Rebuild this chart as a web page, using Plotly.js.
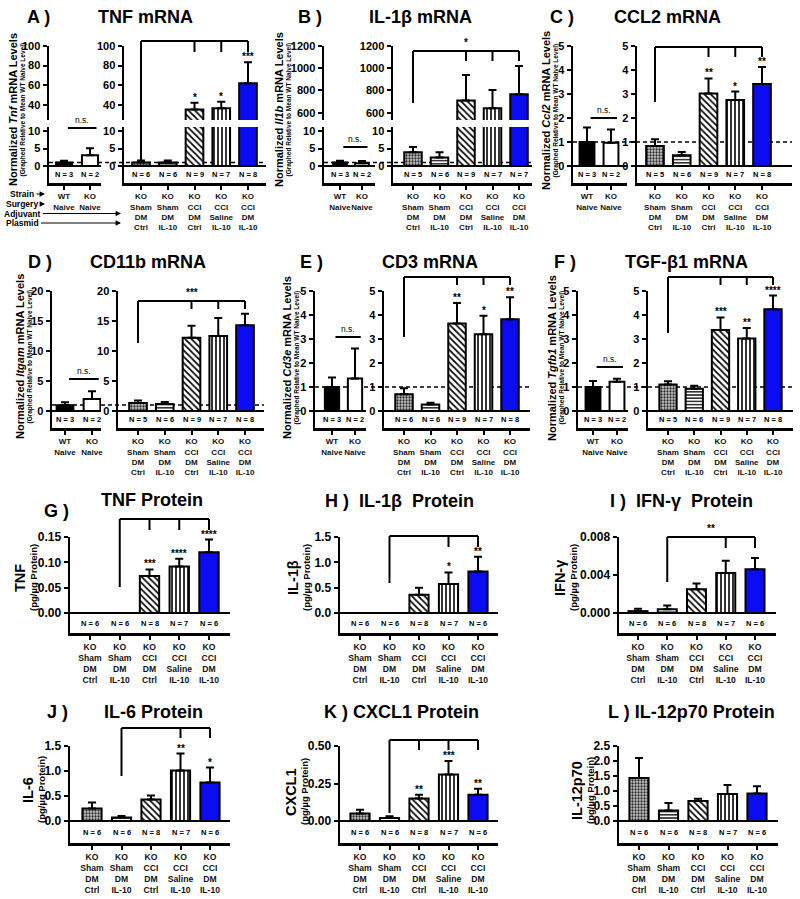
<!DOCTYPE html>
<html><head><meta charset="utf-8">
<script src="https://cdn.plot.ly/plotly-3.0.1.min.js"></script>
<style>body{margin:0;background:#fff}</style>
</head><body><div id="chart" style="width:800px;height:899px"></div>
<script>
// ================= DATA =================
const naiveLabels = ['WT<br>Naive','KO<br>Naive'];
const groupLabels = ['KO<br>Sham<br>DM<br>Ctrl','KO<br>Sham<br>DM<br>IL-10','KO<br>CCI<br>DM<br>Ctrl','KO<br>CCI<br>Saline<br>IL-10','KO<br>CCI<br>DM<br>IL-10'];

// A) TNF mRNA
const tnfNaive=[1.0,3.1], tnfNaiveErr=[0.5,2.0], tnfNaiveN=[3,2];
const tnfGrp=[1.0,1.0,35,36.5,62], tnfGrpErr=[0.6,0.6,7,6.5,21.5], tnfGrpN=[6,6,9,7,8];
const tnfStars=['','','*','*','***'];
// B) IL-1b mRNA
const il1bNaive=[1.0,0.8], il1bNaiveErr=[0.5,0.6], il1bNaiveN=[3,2];
const il1bGrp=[3.9,2.4,710,640,765], il1bGrpErr=[1.5,1.5,230,165,255], il1bGrpN=[5,6,9,7,7];
const il1bStars=['','','','',''];
// C) CCL2 mRNA
const ccl2Naive=[1.0,0.97], ccl2NaiveErr=[0.6,0.55], ccl2NaiveN=[3,2];
const ccl2Grp=[0.83,0.45,3.02,2.75,3.42], ccl2GrpErr=[0.28,0.13,0.63,0.35,0.7], ccl2GrpN=[5,6,9,7,8];
const ccl2Stars=['','','**','*','**'];
// D) CD11b mRNA
const cd11bNaive=[0.95,2.0], cd11bNaiveErr=[0.5,1.3], cd11bNaiveN=[3,2];
const cd11bGrp=[1.35,1.15,12.2,12.5,14.3], cd11bGrpErr=[0.4,0.35,2.0,3.0,1.9], cd11bGrpN=[5,6,9,7,8];
const cd11bStars=['','','','',''];
// E) CD3 mRNA
const cd3Naive=[1.0,1.35], cd3NaiveErr=[0.4,1.25], cd3NaiveN=[3,2];
const cd3Grp=[0.7,0.27,3.65,3.2,3.82], cd3GrpErr=[0.25,0.07,0.85,0.77,0.92], cd3GrpN=[6,6,9,7,8];
const cd3Stars=['','','**','*','**'];
// F) TGF-b1 mRNA
const tgfNaive=[1.0,1.22], tgfNaiveErr=[0.25,0.12], tgfNaiveN=[3,2];
const tgfGrp=[1.1,0.93,3.38,3.02,4.24], tgfGrpErr=[0.14,0.12,0.52,0.44,0.57], tgfGrpN=[5,6,9,7,8];
const tgfStars=['','','***','**','****'];
// G) TNF protein
const tnfP=[0,0,0.073,0.092,0.12], tnfPErr=[0,0,0.013,0.015,0.025], tnfPN=[6,6,8,7,6], tnfPStars=['','','***','****','****'];
// H) IL-1b protein
const il1bP=[0,0,0.36,0.57,0.82], il1bPErr=[0,0,0.14,0.23,0.29], il1bPN=[6,6,8,7,6], il1bPStars=['','','','*','**'];
// I) IFN-g protein
const ifngP=[0.0002,0.0004,0.0025,0.0042,0.0046], ifngPErr=[0.00025,0.0004,0.0006,0.0013,0.0012], ifngPN=[6,6,8,7,6], ifngPStars=['','','','',''];
// J) IL-6 protein
const il6P=[0.25,0.07,0.43,1.01,0.77], il6PErr=[0.12,0.03,0.08,0.34,0.3], il6PN=[6,6,8,7,6], il6PStars=['','','','**','*'];
// K) CXCL1 protein
const cxcl1P=[0.05,0.02,0.15,0.31,0.175], cxcl1PErr=[0.025,0.012,0.025,0.09,0.04], cxcl1PN=[6,6,8,7,6], cxcl1PStars=['','','**','***','**'];
// L) IL-12p70 protein
const il12P=[1.43,0.35,0.67,0.9,0.92], il12PErr=[0.67,0.25,0.07,0.3,0.24], il12PN=[6,6,8,7,6], il12PStars=['','','','',''];

// ================= HELPERS =================
const W=800,H=899;
const fx=p=>p/W, fy=p=>1-p/H;
const FONT='Liberation Sans, Arial, Helvetica, sans-serif';
const layout={width:W,height:H,margin:{l:0,r:0,t:0,b:0,pad:0},paper_bgcolor:'white',plot_bgcolor:'rgba(0,0,0,0)',
  showlegend:false,hovermode:false,font:{family:FONT,color:'black'},shapes:[],annotations:[]};
const data=[];
let nx=0,ny=0;
const key=id=>id[0]+'axis'+id.slice(1);

const BLUE='#0c0cf2';
const naiveStyles=[{shape:'.',bg:'black',fg:'black',size:4,sol:0.5},{shape:'',bg:'white',fg:'black'}];
const grpStyles=[{shape:'.',bg:'#c8c8c8',fg:'#2a2a2a',size:3,sol:0.45},{shape:'-',bg:'white',fg:'black',size:3.2,sol:0.4},
  {shape:'\\',bg:'white',fg:'black',size:4.5,sol:0.38},{shape:'|',bg:'white',fg:'black',size:4,sol:0.4},{shape:'.',bg:BLUE,fg:BLUE,size:4,sol:0.5}];

function makeX(g,n,labels,fs){
  nx++; const id=nx===1?'x':'x'+nx;
  const s=(g.b1-g.b0)/(n-1);
  layout[key(id)]={domain:[fx(g.ax),fx(g.end)],range:[-(g.b0-g.ax)/s,(n-1)+(g.end-g.b1)/s],
    tickvals:[...Array(n).keys()],ticktext:labels,showline:true,linewidth:2.5,linecolor:'black',
    ticks:'outside',ticklen:4,tickwidth:2,tickcolor:'black',showgrid:false,zeroline:false,
    tickfont:{family:FONT,size:fs,weight:'bold',color:'#111'},tickangle:0,fixedrange:true};
  return id;
}
function makeY(top,bot,range,tickvals,ticktext,xid,zl,fs){
  ny++; const id=ny===1?'y':'y'+ny;
  layout[key(id)]={domain:[fy(bot),fy(top)],range,tickvals,ticktext,anchor:xid,showline:true,linewidth:2.5,
    linecolor:'black',ticks:'outside',ticklen:4,tickwidth:2,tickcolor:'black',showgrid:false,
    zeroline:zl,zerolinewidth:2.5,zerolinecolor:'black',tickfont:{family:FONT,size:fs,weight:'bold',color:'black'},fixedrange:true};
  return id;
}
function link(xid,yid){layout[key(xid)].anchor=yid;}
function bars(xid,yid,vals,errs,styles,width){
  data.push({type:'bar',x:vals.map((_,i)=>i),y:vals,xaxis:xid,yaxis:yid,width:width,
    marker:{color:'white',line:{color:'black',width:2},
      pattern:{shape:styles.map(s=>s.shape),fgcolor:styles.map(s=>s.fg),bgcolor:styles.map(s=>s.bg),
        size:styles.map(s=>s.size||5),solidity:styles.map(s=>s.sol||0.3),fillmode:'replace'}},
    error_y:{type:'data',symmetric:false,array:errs,arrayminus:vals.map(()=>0),color:'black',thickness:2,width:4},
    hoverinfo:'skip'});
}
function ann(o){layout.annotations.push(Object.assign({showarrow:false,xref:'paper',yref:'paper',xanchor:'center',yanchor:'middle'},o));}
function fnt(size,weight){return {family:FONT,size:size,color:'black',weight:weight||'bold'};}
function txt(text,xPx,yPx,size,extra){ann(Object.assign({text:text,x:fx(xPx),y:fy(yPx),font:fnt(size)},extra||{}));}
function line(x0,y0,x1,y1,xref,yref,extra){layout.shapes.push(Object.assign({type:'line',x0,y0,x1,y1,xref,yref,line:{color:'black',width:2}},extra||{}));}
function bracket(xid,i0,i1,yPx,descPx,ticks,tickEndPx,center){
  line(i0,fy(yPx),i1,fy(yPx),xid,'paper');
  line(i0,fy(yPx),i0,fy(descPx),xid,'paper');
  ticks.forEach(t=>line(t,fy(yPx),t,fy(tickEndPx),xid,'paper'));
  if(center) ann({text:center,x:(i0+i1)/2,xref:xid,y:fy(yPx-1),yanchor:'bottom',font:fnt(10)});
}
function nLabels(xid,ns,yPx){ns.forEach((n,i)=>ann({text:'N = '+n,x:i,xref:xid,y:fy(yPx),font:fnt(7.5)}));}
function starLabels(xid,yid,vals,errs,st){st.forEach((s,i)=>{if(s)ann({text:s,x:i,xref:xid,y:vals[i]+errs[i],yref:yid,yanchor:'bottom',yshift:-2,font:fnt(10)});});}
function ns(xid,yPx){line(0.15,fy(yPx),1.25,fy(yPx),xid,'paper');ann({text:'n.s.',x:0.7,xref:xid,y:fy(yPx-1),yanchor:'bottom',font:fnt(8.5,'normal')});}
function rng(row,maxv){const s=(row.zero-row.top)/maxv;return [-(row.bot-row.zero)/s,maxv];}
function vtitle(text,xPx,yPx,size){ann({text:text,x:fx(xPx),y:fy(yPx),textangle:-90,font:fnt(size)});}

const R1={top:46,zero:166,bot:183,n:174.5,hiBot:120,loTop:127};
const R2={top:291,zero:411,bot:428,n:419.5};
const R3={top:537,zero:613,bot:633,n:623};
const R4={top:746,zero:821,bot:843,n:832};

function mrna(c){
  const row=c.row, fsT=8;
  const xL=makeX(c.gL,2,naiveLabels,fsT), xR=makeX(c.gR,5,groupLabels,fsT);
  let yL,yR,yLs,yRs;
  if(c.hi){
    const lo=[-(row.bot-row.zero)/3.5,(row.zero-row.loTop)/3.5];
    yL=makeY(row.loTop,row.bot,lo,[0,5,10],['0','5','10'],xL,true,11);
    yLs=makeY(row.top,row.hiBot,c.hi.range,c.hi.ticks,c.hi.ticks.map(String),xL,false,11);
    yR=makeY(row.loTop,row.bot,lo,[0,5,10],['0','5','10'],xR,true,11);
    yRs=makeY(row.top,row.hiBot,c.hi.range,c.hi.ticks,c.hi.ticks.map(String),xR,false,11);
  } else {
    yL=makeY(row.top,row.bot,rng(row,c.max),c.ticks,c.ticks.map(String),xL,true,11); yLs=yL;
    yR=makeY(row.top,row.bot,rng(row,c.max),c.ticks,c.ticks.map(String),xR,true,11); yRs=yR;
  }
  link(xL,yL); link(xR,yR);
  const layers=c.hi?[[yL,yR],[yLs,yRs]]:[[yL,yR]];
  layers.forEach(([a,b])=>{bars(xL,a,c.naive,c.naiveErr,naiveStyles,0.62);bars(xR,b,c.grp,c.grpErr,grpStyles,0.66);});
  line(fx(c.gL.ax),1,fx(c.gR.end),1,'paper',yL,{line:{color:'black',width:1.5,dash:'4px,3px'},layer:'below'});
  nLabels(xL,c.naiveN,row.n); nLabels(xR,c.grpN,row.n);
  starLabels(xR,yRs,c.grp,c.grpErr,c.stars);
  bracket(xR,0,4,c.br.y,c.br.desc,[2,3,4],c.br.tick,c.br.center);
  ns(xL,c.nsY);
  txt(c.letter,c.letterX,c.titleY,18); txt(c.title,c.titleX,c.titleY,18);
  vtitle(c.ytitle,c.ytX,c.ytY,11); vtitle('(Graphed Relative to Mean WT Naive Level)',c.ytX+9.5,c.ytY,6.5);
}
function protein(c){
  const row=c.row;
  const x=makeX(c.g,5,groupLabels,8.6);
  const y=makeY(row.top,row.bot,rng(row,c.max),c.ticks,c.tickText,x,true,12);
  link(x,y);
  bars(x,y,c.vals,c.errs,grpStyles,0.65);
  nLabels(x,c.n,row.n);
  starLabels(x,y,c.vals,c.errs,c.stars);
  if(c.br) bracket(x,1,4,c.br.y,c.br.desc,c.br.ticks,c.br.tick,c.br.center);
  c.titles.forEach(t=>txt(t[0],t[1],t[2],18));
  vtitle(c.ytitle,c.ytX,c.ytY,14.5); vtitle('(pg/\u00b5g Protein)',c.ytX+13,c.ytY,9.5);
}

// ================= PANELS =================
mrna({row:R1,gL:{ax:49,b0:64,b1:90,end:101},gR:{ax:124,b0:141,b1:248,end:266},
  hi:{range:[24.4,100],ticks:[40,60,80,100]},
  naive:tnfNaive,naiveErr:tnfNaiveErr,naiveN:tnfNaiveN,grp:tnfGrp,grpErr:tnfGrpErr,grpN:tnfGrpN,stars:tnfStars,
  br:{y:41,desc:160,tick:52},nsY:128,letter:'A )',letterX:38,title:'TNF mRNA',titleX:145,titleY:17,
  ytitle:'Normalized <i>Tnf</i> mRNA Levels',ytX:13,ytY:110});
mrna({row:R1,gL:{ax:324,b0:340,b1:362,end:375},gR:{ax:393,b0:413,b1:519,end:532},
  hi:{range:[534,1200],ticks:[600,800,1000,1200]},
  naive:il1bNaive,naiveErr:il1bNaiveErr,naiveN:il1bNaiveN,grp:il1bGrp,grpErr:il1bGrpErr,grpN:il1bGrpN,stars:il1bStars,
  br:{y:51,desc:103,tick:61,center:'*'},nsY:147,letter:'B )',letterX:310,title:'IL-1\u03b2 mRNA',titleX:420,titleY:17,
  ytitle:'Normalized <i>Il1b</i> mRNA Levels',ytX:279,ytY:110});
mrna({row:R1,gL:{ax:573,b0:587,b1:611,end:627},gR:{ax:637,b0:655,b1:762,end:792},max:5,ticks:[0,1,2,3,4,5],
  naive:ccl2Naive,naiveErr:ccl2NaiveErr,naiveN:ccl2NaiveN,grp:ccl2Grp,grpErr:ccl2GrpErr,grpN:ccl2GrpN,stars:ccl2Stars,
  br:{y:47,desc:102,tick:57},nsY:118,letter:'C )',letterX:562,title:'CCL2 mRNA',titleX:667,titleY:17,
  ytitle:'Normalized <i>Ccl2</i> mRNA Levels',ytX:546,ytY:111});
mrna({row:R2,gL:{ax:52,b0:65,b1:92,end:101},gR:{ax:118,b0:138,b1:245,end:264},max:20,ticks:[0,5,10,15,20],
  naive:cd11bNaive,naiveErr:cd11bNaiveErr,naiveN:cd11bNaiveN,grp:cd11bGrp,grpErr:cd11bGrpErr,grpN:cd11bGrpN,stars:cd11bStars,
  br:{y:301,desc:343,tick:309,center:'***'},nsY:379,letter:'D )',letterX:40,title:'CD11b mRNA',titleX:148,titleY:262,
  ytitle:'Normalized <i>Itgam</i> mRNA Levels',ytX:20,ytY:357});
mrna({row:R2,gL:{ax:315,b0:332,b1:355,end:366},gR:{ax:384,b0:404,b1:510,end:530},max:5,ticks:[0,1,2,3,4,5],
  naive:cd3Naive,naiveErr:cd3NaiveErr,naiveN:cd3NaiveN,grp:cd3Grp,grpErr:cd3GrpErr,grpN:cd3GrpN,stars:cd3Stars,
  br:{y:277,desc:337,tick:285},nsY:337,letter:'E )',letterX:311,title:'CD3 mRNA',titleX:430,titleY:262,
  ytitle:'Normalized <i>Cd3e</i> mRNA Levels',ytX:287,ytY:358});
mrna({row:R2,gL:{ax:578,b0:593,b1:617,end:628},gR:{ax:648,b0:668,b1:773,end:793},max:5,ticks:[0,1,2,3,4,5],
  naive:tgfNaive,naiveErr:tgfNaiveErr,naiveN:tgfNaiveN,grp:tgfGrp,grpErr:tgfGrpErr,grpN:tgfGrpN,stars:tgfStars,
  br:{y:277,desc:333,tick:285},nsY:367,letter:'F )',letterX:565,title:'TGF-\u03b21 mRNA',titleX:686,titleY:262,
  ytitle:'Normalized <i>Tgfb1</i> mRNA Levels',ytX:552,ytY:358});

protein({row:R3,g:{ax:70,b0:90,b1:209,end:230},max:0.15,ticks:[0,0.05,0.1,0.15],tickText:['0.00','0.05','0.10','0.15'],
  vals:tnfP,errs:tnfPErr,n:tnfPN,stars:tnfPStars,br:{y:519,desc:587,ticks:[2,3,4],tick:530},
  titles:[['G )',57,511],['TNF Protein',152,500]],ytitle:'TNF',ytX:20,ytY:578});
protein({row:R3,g:{ax:340,b0:360,b1:478,end:498},max:1.5,ticks:[0,0.5,1,1.5],tickText:['0.0','0.5','1.0','1.5'],
  vals:il1bP,errs:il1bPErr,n:il1bPN,stars:il1bPStars,br:{y:536,desc:583,ticks:[3,4],tick:547},
  titles:[['H )\u00a0\u00a0IL-1\u03b2\u00a0\u00a0Protein',399,501]],ytitle:'IL-1\u03b2',ytX:293,ytY:578});
protein({row:R3,g:{ax:619,b0:638,b1:755,end:776},max:0.008,ticks:[0,0.004,0.008],tickText:['0.000','0.004','0.008'],
  vals:ifngP,errs:ifngPErr,n:ifngPN,stars:ifngPStars,br:{y:537,desc:582,ticks:[3,4],tick:548,center:'**'},
  titles:[['I )\u00a0\u00a0IFN-\u03b3\u00a0\u00a0Protein',681,501]],ytitle:'IFN-\u03b3',ytX:560,ytY:578});
protein({row:R4,g:{ax:70,b0:92,b1:210,end:230},max:1.5,ticks:[0,0.5,1,1.5],tickText:['0.0','0.5','1.0','1.5'],
  vals:il6P,errs:il6PErr,n:il6PN,stars:il6PStars,br:{y:728,desc:776,ticks:[3,4],tick:738},
  titles:[['J )',58,712],['IL-6 Protein',153,712]],ytitle:'IL-6',ytX:28,ytY:790});
protein({row:R4,g:{ax:340,b0:360,b1:478,end:498},max:0.5,ticks:[0,0.25,0.5],tickText:['0.00','0.25','0.50'],
  vals:cxcl1P,errs:cxcl1PErr,n:cxcl1PN,stars:cxcl1PStars,br:{y:740,desc:813,ticks:[2,3,4],tick:750},
  titles:[['K ) CXCL1 Protein',402,712]],ytitle:'CXCL1',ytX:291,ytY:792});
protein({row:R4,g:{ax:619,b0:639,b1:757,end:778},max:2.5,ticks:[0,0.5,1,1.5,2,2.5],tickText:['0.0','0.5','1.0','1.5','2.0','2.5'],
  vals:il12P,errs:il12PErr,n:il12PN,stars:il12PStars,br:null,
  titles:[['L ) IL-12p70 Protein',691,712]],ytitle:'IL-12p70',ytX:577,ytY:791});

// Row labels with arrows (panel A)
[['Strain',194,45],['Surgery',204,45],['Adjuvant',213.5,121],['Plasmid',223,121]].forEach(r=>{
  ann({text:r[0],x:fx(r[2]),y:fy(r[1]),showarrow:true,ax:22-r[2],ay:0,axref:'pixel',ayref:'pixel',
    arrowhead:2,arrowsize:0.9,arrowwidth:1.2,arrowcolor:'black',standoff:0,startstandoff:1,font:fnt(8.5)});
});

Plotly.newPlot('chart',data,layout,{staticPlot:true,displayModeBar:false});
</script></body></html>
